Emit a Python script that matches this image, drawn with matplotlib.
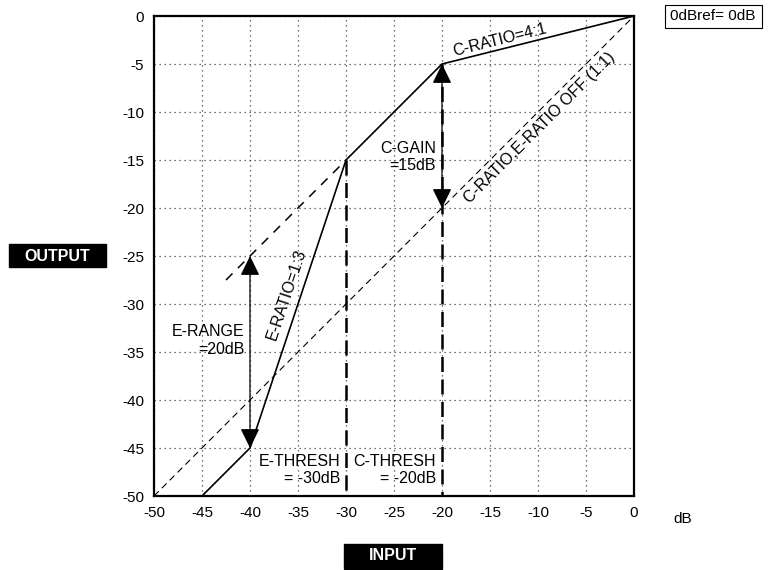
import numpy as np
import matplotlib
matplotlib.use("Agg")
import matplotlib.pyplot as plt
from matplotlib.patches import Rectangle

plt.rcParams['font.family'] = ['Liberation Sans', 'DejaVu Sans']

# transfer curve (input dB, output dB)
curve_in = [-45, -40, -30, -20, 0]
curve_out = [-50, -45, -15, -5, 0]
# 1:1 reference line
ref_in = [-50, 0]
ref_out = [-50, 0]
# extension of the unity line above E-THRESH
ext_in = [-42.5, -30]
ext_out = [-27.5, -15]
# thresholds
e_thresh = -30
c_thresh = -20
e_thresh_out = -15
c_thresh_out = -5
# arrows (x, y_from, y_to)
e_range = (-40, -45, -25)
c_gain = (-20, -20, -5)
ticks = [-50, -45, -40, -35, -30, -25, -20, -15, -10, -5, 0]

W, H = 768, 570
fig = plt.figure(figsize=(W / 100, H / 100), dpi=100)
ax = fig.add_axes([154 / W, 1 - 496 / H, 480 / W, 480 / H])
ax.set_xlim(-50, 0)
ax.set_ylim(-50, 0)
ax.set_xticks(ticks)
ax.set_yticks(ticks)
ax.set_xticklabels([str(t) for t in ticks])
ax.set_yticklabels([str(t) for t in ticks])
ax.tick_params(length=0, labelsize=11, pad=7)
ax.grid(True, linestyle=(0, (1, 3)), color='#444444', linewidth=0.9)
for s in ax.spines.values():
    s.set_linewidth(1.6)

ax.plot(ref_in, ref_out, color='black', linestyle=(0, (6, 4)), linewidth=0.8)
ax.plot(ext_in, ext_out, color='black', linestyle=(0, (6, 5)), linewidth=1.1)
ax.plot(curve_in, curve_out, color='black', linewidth=1.2, solid_joinstyle='miter')
ax.plot([e_thresh, e_thresh], [e_thresh_out, -50], color='black', linestyle=(0, (6, 3)), linewidth=1.8)
ax.plot([c_thresh, c_thresh], [c_thresh_out, -50], color='black', linestyle=(0, (6, 3)), linewidth=1.8)

for x, y0, y1 in (e_range, c_gain):
    ax.annotate('', xy=(x, y1), xytext=(x, y0),
                arrowprops=dict(arrowstyle='<|-|>,head_length=0.55,head_width=0.27',
                                color='black', lw=0.9,
                                mutation_scale=22, shrinkA=0, shrinkB=0))

fs = 11.5
ax.text(-14, -2.5, 'C-RATIO=4:1', rotation=14, ha='center', va='center', fontsize=fs)
ax.text(-9.8, -11.6, 'C-RATIO,E-RATIO OFF (1:1)', rotation=45, ha='center', va='center', fontsize=fs)
ax.text(-36.2, -29.0, 'E-RATIO=1:3', rotation=71.5, ha='center', va='center', fontsize=fs)
ax.text(-20.6, -14.7, 'C-GAIN\n=15dB', ha='right', va='center', fontsize=fs, linespacing=1.2)
ax.text(-40.6, -33.8, 'E-RANGE\n=20dB', ha='right', va='center', fontsize=fs, linespacing=1.2)
ax.text(-30.6, -47.3, 'E-THRESH\n= -30dB', ha='right', va='center', fontsize=fs, linespacing=1.2)
ax.text(-20.6, -47.3, 'C-THRESH\n= -20dB', ha='right', va='center', fontsize=fs, linespacing=1.2)

fig.text(683 / W, 1 - 519 / H, 'dB', ha='center', va='center', fontsize=11)

# label boxes
fig.patches.append(Rectangle((9 / W, 1 - 267 / H), 97 / W, 23 / H, transform=fig.transFigure,
                             facecolor='black', edgecolor='black'))
fig.text(57 / W, 1 - 256 / H, 'OUTPUT', ha='center', va='center', fontsize=11.5,
         fontweight='bold', color='white')
fig.patches.append(Rectangle((344 / W, 1 - 569 / H), 98 / W, 25 / H, transform=fig.transFigure,
                             facecolor='black', edgecolor='black'))
fig.text(393 / W, 1 - 556 / H, 'INPUT', ha='center', va='center', fontsize=11.5,
         fontweight='bold', color='white')
fig.patches.append(Rectangle((665 / W, 1 - 28 / H), 97 / W, 23 / H, transform=fig.transFigure,
                             facecolor='white', edgecolor='black', linewidth=0.8))
fig.text(713 / W, 1 - 16.5 / H, '0dBref= 0dB', ha='center', va='center', fontsize=11)

fig.savefig('out.png', dpi=100)
